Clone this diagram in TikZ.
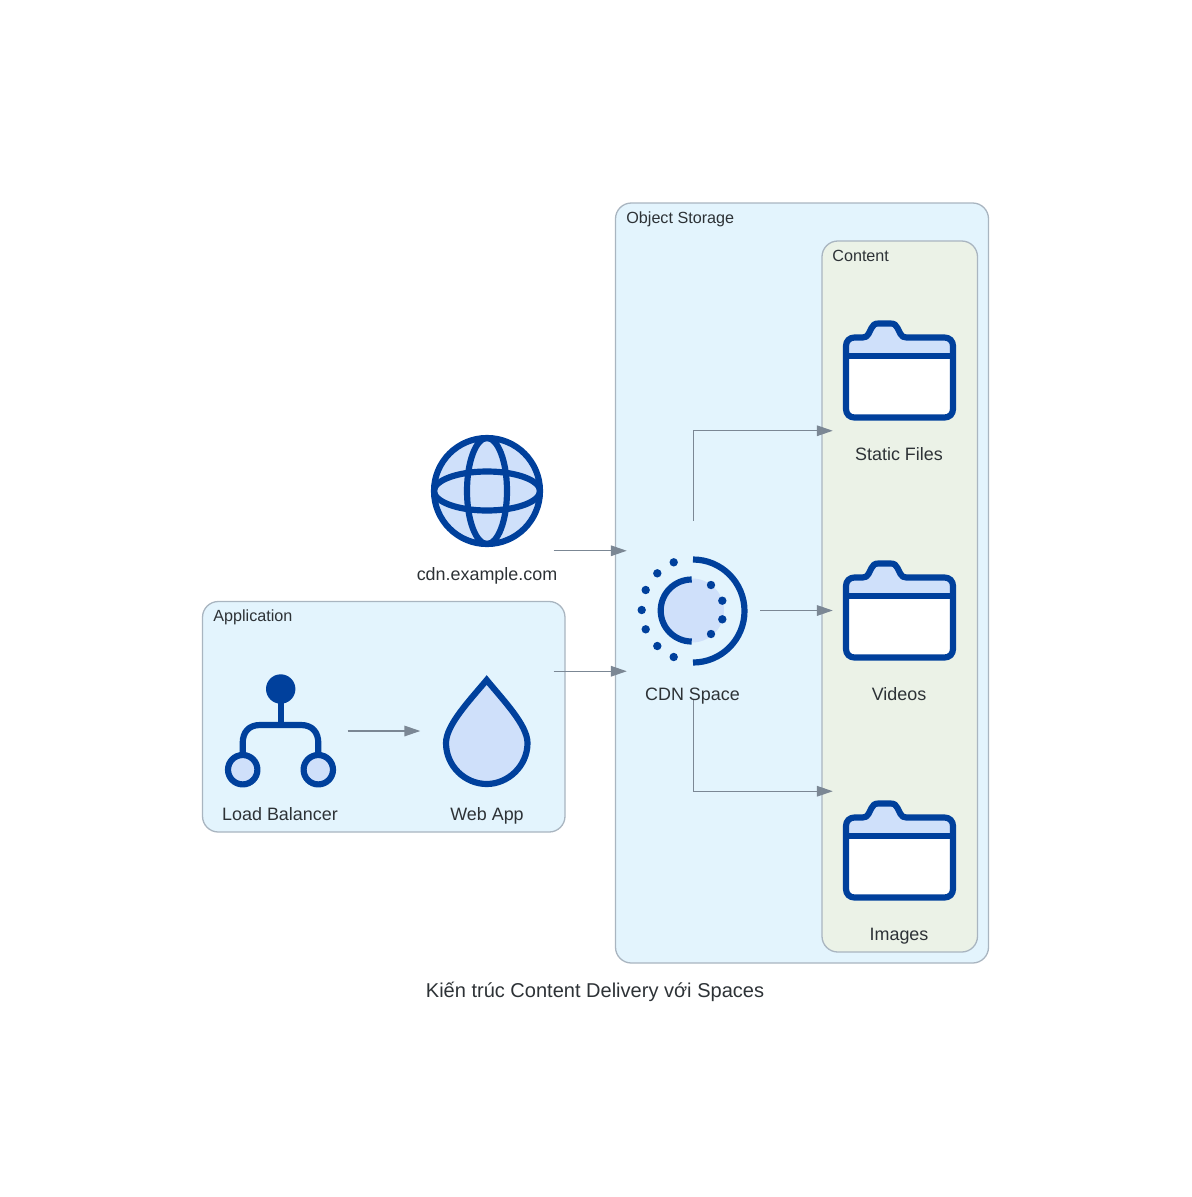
\documentclass[tikz,border=0pt]{standalone}
\usepackage{fontspec}
\setmainfont{Liberation Sans}
\usetikzlibrary{arrows.meta}
\newcommand{\px}{0.5669pt}
\definecolor{iconblue}{HTML}{00409C}
\definecolor{iconfill}{HTML}{CFE0FA}
\definecolor{groupblue}{HTML}{E3F4FD}
\definecolor{groupgreen}{HTML}{EBF2E7}
\definecolor{groupline}{HTML}{A9B5C0}
\definecolor{flowgrey}{HTML}{7B8794}
\definecolor{textgrey}{HTML}{2D3236}
\tikzset{
  icon/.style = {line width=6.2*\px, draw=iconblue, fill=iconfill, line join=round},
  dot/.style = {fill=iconblue},
  slot/.style = {minimum width=134*\px, minimum height=#1*\px, inner sep=0pt, outer sep=0pt},
  group/.style = {draw=groupline, line width=1.3*\px, rounded corners=9pt},
  flow/.style = {draw=flowgrey, line width=1.2*\px, -{Triangle[length=9pt,width=6pt]}},
  lbl/.style = {anchor=base, text=textgrey, font=\fontsize{10.2}{12}\selectfont},
  grouplbl/.style = {anchor=base west, inner sep=0pt, text=textgrey, font=\fontsize{9.2}{11}\selectfont},
  folder/.pic = {
    \fill[iconfill] (-53.5,-14.3) -- (-53.5,-24) -- (-45,-32.5) -- (-34,-32.5) -- (-27,-46.5) -- (-5,-46.5) -- (2,-32.5) -- (45,-32.5) -- (53.5,-24) -- (53.5,-14.3) -- cycle;
    \fill[white] (-53.5,-14.3) rectangle (53.5,47.5);
    \draw[icon, fill=none] (-45,-32.5) .. controls (-50,-32.5) and (-53.5,-29) .. (-53.5,-24) -- (-53.5,39) .. controls (-53.5,44) and (-50,47.5) .. (-45,47.5) -- (45,47.5) .. controls (50,47.5) and (53.5,44) .. (53.5,39) -- (53.5,-24) .. controls (53.5,-29) and (50,-32.5) .. (45,-32.5) -- (7,-32.5) .. controls (4,-32.5) and (2.5,-33.5) .. (1,-36) -- (-2,-42) .. controls (-3.5,-45) and (-5,-46.5) .. (-9,-46.5) -- (-21,-46.5) .. controls (-25,-46.5) and (-26.5,-45) .. (-28,-42) -- (-31,-36) .. controls (-32.5,-33.5) and (-34,-32.5) .. (-37,-32.5) -- cycle;
    \draw[icon] (-53.5,-14.3) -- (53.5,-14.3);
  }
}

\begin{document}
\begin{tikzpicture}[x=0.02cm, y=-0.02cm]
\useasboundingbox (0,0) rectangle (1191,1197);

\draw[group, fill=groupblue] (615.5,203) rectangle (988.5,963);
\draw[group, fill=groupgreen] (822,241) rectangle (977.5,952);
\draw[group, fill=groupblue] (202.5,601.5) rectangle (565,832);
\node[grouplbl] (storagelbl) at (626,223) {Object Storage};
\node[grouplbl] (contentlbl) at (832,261) {Content};
\node[grouplbl] (applbl) at (213,621) {Application};

\node[slot=120] (dns) at (487,491) {};
\node[slot=180] (cdn) at (693.5,610.5) {};
\node[slot=120] (balancer) at (281,731) {};
\node[slot=120] (webapp) at (487,731) {};
\node[slot=122] (static) at (899.5,370) {};
\node[slot=120] (videos) at (899.5,610.5) {};
\node[slot=118] (images) at (899.5,850) {};

\draw[icon] (487,491) circle (53);
\draw[icon, fill=none] (487,491) ellipse (20 and 53);
\draw[icon, fill=none] (487,491) ellipse (53 and 19.5);

\fill[iconfill] (692,610.5) circle (32);
\draw[icon, fill=none] (693,559.5) arc (-90:90:51.5);
\draw[icon, fill=none] (691.7,579.5) arc (-90:-270:31);
\foreach \dx/\dy in {673.7/562.3, 657.3/573.3, 645.7/590, 641.7/610, 645.7/629.3, 657.3/646, 673.7/657, 711/585, 722.3/600.7, 722.3/619.3, 711/634}
  \fill[dot] (\dx,\dy) circle (4.2);

\draw[icon, fill=none] (242.7,755) -- (242.7,743) .. controls (242.7,732) and (249,725) .. (260,725) -- (301,725) .. controls (312,725) and (318.3,732) .. (318.3,743) -- (318.3,755);
\draw[icon, fill=none] (280.7,689) -- (280.7,725);
\fill[dot] (280.7,689) circle (14.7);
\draw[icon] (242.7,769.7) circle (14.7);
\draw[icon] (318.3,769.7) circle (14.7);

\draw[icon, line join=miter] (486.7,680) .. controls (470,700) and (446,725) .. (446,743) .. controls (446,766) and (465,784) .. (486.7,784) .. controls (508,784) and (527.5,766) .. (527.5,743) .. controls (527.5,725) and (503,700) .. (486.7,680) -- cycle;

\pic at (899.5,370) {folder};
\pic at (899.5,610) {folder};
\pic at (899.5,850) {folder};

\draw[flow] (dns.south east) -- (dns.south east -| cdn.west);
\draw[flow] (webapp.north east) -- (webapp.north east -| cdn.west);
\draw[flow] (balancer.east) -- (webapp.west);
\draw[flow] (cdn.north) |- (static.south west);
\draw[flow] (cdn.east) -- (videos.west);
\draw[flow] (cdn.south) |- (images.north west);

\node[lbl] (dnslbl) at (487,580) {cdn.example.com};
\node[lbl] (cdnlbl) at (692.5,700) {CDN Space};
\node[lbl] (balancerlbl) at (280,820) {Load Balancer};
\node[lbl] (webapplbl) at (487,820) {Web App};
\node[lbl] (staticlbl) at (899,460) {Static Files};
\node[lbl] (videoslbl) at (899,700) {Videos};
\node[lbl] (imageslbl) at (899,940) {Images};
\node[lbl, font=\fontsize{11.4}{14}\selectfont] (caption) at (595,997) {Kiến trúc Content Delivery với Spaces};
\end{tikzpicture}
\end{document}
